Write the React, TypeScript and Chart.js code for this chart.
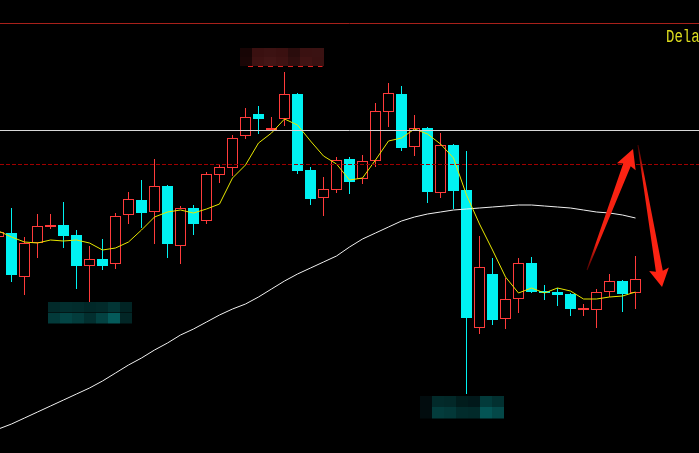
import React, { useEffect, useRef } from 'react';
import { Chart, registerables } from 'chart.js';

Chart.register(...registerables);

// ---- Data (price values) ----
const OPEN = [
  1.1016, 1.1020, 1.0976, 1.1010, 1.1026, 1.1028, 1.1018, 1.0987, 1.0994, 1.0989,
  1.1038, 1.1053, 1.1041, 1.1067, 1.1007, 1.1045, 1.1032, 1.1078, 1.1085, 1.1117,
  1.1139, 1.1123, 1.1134, 1.1159, 1.1083, 1.1055, 1.1063, 1.1094, 1.1074, 1.1092,
  1.1141, 1.1159, 1.1106, 1.1125, 1.1060, 1.1108, 1.1063, 1.0925, 1.0979, 1.0934,
  1.0954, 1.0990, 1.0962, 1.0961, 1.0959, 1.0943, 1.0943, 1.0961, 1.0972, 1.0960,
];
const HIGH = [
  1.1024, 1.1045, 1.1016, 1.1039, 1.1039, 1.1051, 1.1023, 1.1007, 1.1014, 1.1040,
  1.1061, 1.1073, 1.1094, 1.1068, 1.1047, 1.1048, 1.1081, 1.1089, 1.1118, 1.1145,
  1.1147, 1.1136, 1.1181, 1.1160, 1.1086, 1.1076, 1.1096, 1.1096, 1.1098, 1.1150,
  1.1170, 1.1167, 1.1138, 1.1126, 1.1120, 1.1109, 1.1102, 1.1017, 1.0995, 1.0975,
  1.0995, 1.0996, 1.0968, 1.0965, 1.0960, 1.0949, 1.0964, 1.0979, 1.0973, 1.0997,
];
const LOW = [
  1.1013, 1.0971, 1.0958, 1.0995, 1.1024, 1.1005, 1.0964, 1.0951, 1.0983, 1.0984,
  1.1029, 1.1025, 1.1009, 1.0995, 1.0989, 1.1018, 1.1029, 1.1070, 1.1077, 1.1114,
  1.1119, 1.1123, 1.1127, 1.1079, 1.1048, 1.1037, 1.1060, 1.1059, 1.1069, 1.1086,
  1.1126, 1.1102, 1.1097, 1.1050, 1.1055, 1.1044, 1.0859, 1.0919, 1.0928, 1.0924,
  1.0940, 1.0960, 1.0953, 1.0947, 1.0937, 1.0937, 1.0925, 1.0956, 1.0941, 1.0944,
];
const CLOSE = [
  1.1021, 1.0978, 1.1010, 1.1027, 1.1028, 1.1017, 1.0987, 1.0994, 1.0987, 1.1037,
  1.1054, 1.1040, 1.1067, 1.1009, 1.1045, 1.1029, 1.1079, 1.1086, 1.1115, 1.1136,
  1.1134, 1.1125, 1.1159, 1.1082, 1.1054, 1.1064, 1.1093, 1.1071, 1.1092, 1.1142,
  1.1160, 1.1105, 1.1125, 1.1061, 1.1108, 1.1062, 1.0935, 1.0986, 1.0933, 1.0954,
  1.0990, 1.0961, 1.0960, 1.0958, 1.0944, 1.0945, 1.0961, 1.0972, 1.0959, 1.0974,
];
const MA_FAST = [
  1.1022, 1.1016, 1.1011, 1.1010, 1.1013, 1.1012, 1.1013, 1.1010, 1.1003, 1.1005,
  1.1011, 1.1023, 1.1036, 1.1041, 1.1043, 1.1040, 1.1044, 1.1049, 1.1075, 1.1088,
  1.1110, 1.1120, 1.1134, 1.1128, 1.1112, 1.1097, 1.1089, 1.1073, 1.1075, 1.1093,
  1.1112, 1.1115, 1.1124, 1.1119, 1.1109, 1.1095, 1.1058, 1.1029, 1.1003, 1.0976,
  1.0960, 1.0965, 1.0960, 1.0965, 1.0962, 1.0954, 1.0954, 1.0956, 1.0957, 1.0961,
];
const MA_SLOW = [
  1.0824, 1.0829, 1.0835, 1.0841, 1.0847, 1.0853, 1.0859, 1.0865, 1.0872, 1.0880,
  1.0888, 1.0895, 1.0903, 1.0910, 1.0918, 1.0924, 1.0931, 1.0938, 1.0944, 1.0949,
  1.0956, 1.0964, 1.0972, 1.0979, 1.0985, 1.0991, 1.0997, 1.1006, 1.1014, 1.1020,
  1.1026, 1.1032, 1.1036, 1.1039, 1.1041, 1.1043, 1.1044, 1.1045, 1.1046, 1.1047,
  1.1048, 1.1048, 1.1047, 1.1046, 1.1045, 1.1043, 1.1041, 1.1040, 1.1038, 1.1035,
];
const LEVEL_WHITE = 1.1123;
const LEVEL_RED_DASH = 1.1089;
const LEVEL_TOP = 1.1230;
const CORNER_LABEL = 'Dela';

// arrows: [fromIndex, fromPrice, toIndex, toPrice]
const ARROW_UP = [45.27, 1.0983, 48.81, 1.1104];
const ARROW_DOWN = [49.19, 1.1108, 51.04, 1.0966];

// pixelated (blurred) price labels
const MOSAIC_HIGH = [
  ['#170505', '#3a1010', '#3c1212', '#3a1010', '#2a0c0c', '#3a1111', '#3a1212'],
  ['#1a0606', '#3e1212', '#421515', '#3e1212', '#300e0e', '#401313', '#3a1111'],
];
const MOSAIC_LOW_A = [
  ['#022a2a', '#022e2e', '#022c2c', '#012828', '#022a2a', '#023535', '#012424'],
  ['#033a3a', '#034444', '#033c3c', '#022f2f', '#034242', '#045a5a', '#022626'],
];
const MOSAIC_LOW_B = [
  ['#020c0e', '#022a2a', '#022828', '#011c1c', '#01181a', '#023a3a', '#023030'],
  ['#020c0e', '#033c3c', '#033838', '#022c2c', '#022a2a', '#045454', '#044848'],
];

const X_MIN = 1.5 / 13;
const X_MAX = X_MIN + 699 / 13;
const Y_MIN = 1.08;
const Y_MAX = 1.1253;

const RED = '#ff3b3b';
const CYAN = '#00f2f2';

function drawMosaic(ctx: CanvasRenderingContext2D, left: number, top: number, rows: string[][], cellW: number, rowH: number) {
  rows.forEach((row, r) => {
    row.forEach((c, k) => {
      ctx.fillStyle = c;
      ctx.fillRect(Math.round(left + k * cellW), Math.round(top + r * rowH), cellW, rowH);
    });
  });
}

function drawArrow(ctx: CanvasRenderingContext2D, x0: number, y0: number, x1: number, y1: number,
  tailW: number, neckW: number, headW: number, headL: number) {
  const dx = x1 - x0, dy = y1 - y0;
  const len = Math.hypot(dx, dy);
  const ux = dx / len, uy = dy / len;
  const nx = -uy, ny = ux;
  const bx = x1 - ux * headL, by = y1 - uy * headL;
  const g = ctx.createLinearGradient(x0, y0, x1, y1);
  g.addColorStop(0, '#4a0000');
  g.addColorStop(0.22, '#f02010');
  g.addColorStop(1, '#ff2414');
  ctx.fillStyle = g;
  ctx.beginPath();
  ctx.moveTo(x0 + nx * tailW / 2, y0 + ny * tailW / 2);
  ctx.lineTo(bx + nx * neckW / 2, by + ny * neckW / 2);
  ctx.lineTo(bx + nx * headW / 2 - ux * 2, by + ny * headW / 2 - uy * 2);
  ctx.lineTo(x1, y1);
  ctx.lineTo(bx - nx * headW / 2 - ux * 2, by - ny * headW / 2 - uy * 2);
  ctx.lineTo(bx - nx * neckW / 2, by - ny * neckW / 2);
  ctx.lineTo(x0 - nx * tailW / 2, y0 - ny * tailW / 2);
  ctx.closePath();
  ctx.fill();
}

const overlayPlugin = {
  id: 'overlay',
  beforeDraw(chart: any) {
    const ctx = chart.ctx;
    ctx.save();
    ctx.fillStyle = '#000';
    ctx.fillRect(0, 0, chart.width, chart.height);
    ctx.restore();
  },
  afterDatasetsDraw(chart: any) {
    const ctx: CanvasRenderingContext2D = chart.ctx;
    const xs = chart.scales.x;
    const ys = chart.scales.y;
    const W = chart.width;
    ctx.save();

    // horizontal levels
    const yTop = Math.round(ys.getPixelForValue(LEVEL_TOP)) + 0.5;
    ctx.strokeStyle = '#a8201a';
    ctx.lineWidth = 1;
    ctx.beginPath(); ctx.moveTo(0, yTop); ctx.lineTo(W, yTop); ctx.stroke();

    const yW = Math.round(ys.getPixelForValue(LEVEL_WHITE)) + 0.5;
    ctx.strokeStyle = '#d8d8d8';
    ctx.beginPath(); ctx.moveTo(0, yW); ctx.lineTo(W, yW); ctx.stroke();

    const yR = Math.round(ys.getPixelForValue(LEVEL_RED_DASH)) + 0.5;
    ctx.strokeStyle = '#a00000';
    ctx.setLineDash([4, 2]);
    ctx.beginPath(); ctx.moveTo(0, yR); ctx.lineTo(W, yR); ctx.stroke();
    ctx.setLineDash([]);

    // blurred high label above the highest candle
    let hi = 0, lo = 0;
    HIGH.forEach((v, i) => { if (v > HIGH[hi]) hi = i; });
    LOW.forEach((v, i) => { if (v < LOW[lo]) lo = i; });
    const hx = xs.getPixelForValue(hi), hy = ys.getPixelForValue(HIGH[hi]);
    drawMosaic(ctx, hx - 44.5, hy - 24, MOSAIC_HIGH, 12, 9);
    ctx.strokeStyle = '#e02020';
    ctx.setLineDash([5, 5]);
    ctx.beginPath();
    ctx.moveTo(hx - 36.5, Math.round(hy - 6) + 0.5);
    ctx.lineTo(hx + 38, Math.round(hy - 6) + 0.5);
    ctx.stroke();
    ctx.setLineDash([]);

    // blurred low label under the lowest candle
    const lx = xs.getPixelForValue(lo), ly = ys.getPixelForValue(LOW[lo]);
    drawMosaic(ctx, lx - 46.5, ly + 2, MOSAIC_LOW_B, 12, 11.5);

    // blurred label under the early swing low (index 7)
    const sx = xs.getPixelForValue(7), sy = ys.getPixelForValue(LOW[7]);
    drawMosaic(ctx, sx - 41.5, sy + 0, MOSAIC_LOW_A, 12, 10.5);

    // arrows
    drawArrow(ctx,
      xs.getPixelForValue(ARROW_UP[0]), ys.getPixelForValue(ARROW_UP[1]),
      xs.getPixelForValue(ARROW_UP[2]), ys.getPixelForValue(ARROW_UP[3]),
      1, 8, 20, 17);
    drawArrow(ctx,
      xs.getPixelForValue(ARROW_DOWN[0]), ys.getPixelForValue(ARROW_DOWN[1]),
      xs.getPixelForValue(ARROW_DOWN[2]), ys.getPixelForValue(ARROW_DOWN[3]),
      1, 7, 20, 16);

    // corner label
    ctx.fillStyle = '#dcdc1e';
    ctx.font = '14px "Liberation Mono", "DejaVu Sans Mono", monospace';
    ctx.textBaseline = 'alphabetic';
    ctx.save();
    ctx.translate(666, 42);
    ctx.scale(1, 1.25);
    ctx.fillText(CORNER_LABEL, 0, 0);
    ctx.restore();

    ctx.restore();
  },
};

export default function App() {
  const ref = useRef<HTMLCanvasElement | null>(null);

  useEffect(() => {
    const canvas = ref.current;
    if (!canvas) return;
    const up = OPEN.map((o, i) => CLOSE[i] >= o);
    const wicks = OPEN.map((_, i) => ({ x: i, y: [LOW[i], HIGH[i]] }));
    const bodies = OPEN.map((o, i) => ({ x: i, y: [o, CLOSE[i]] }));
    const chart = new Chart(canvas, {
      type: 'bar',
      data: {
        datasets: [
          {
            type: 'line',
            data: MA_FAST.map((v, i) => ({ x: i, y: v })),
            borderColor: '#e8e800',
            borderWidth: 1,
            pointRadius: 0,
            tension: 0,
            order: 0,
          } as any,
          {
            type: 'line',
            data: MA_SLOW.map((v, i) => ({ x: i, y: v })),
            borderColor: '#f0f0f0',
            borderWidth: 1,
            pointRadius: 0,
            tension: 0,
            order: 0,
          } as any,
          {
            type: 'bar',
            data: bodies,
            backgroundColor: up.map((u) => (u ? '#000000' : CYAN)),
            borderColor: up.map((u) => (u ? RED : CYAN)),
            borderWidth: 1,
            borderSkipped: false,
            inflateAmount: 0,
            barThickness: 11,
            grouped: false,
            order: 1,
          } as any,
          {
            type: 'bar',
            data: wicks,
            backgroundColor: up.map((u) => (u ? RED : CYAN)),
            borderWidth: 0,
            inflateAmount: 0,
            barThickness: 1,
            grouped: false,
            order: 2,
          } as any,
        ],
      },
      options: {
        animation: false,
        responsive: false,
        devicePixelRatio: 1,
        events: [],
        layout: { padding: 0 },
        plugins: { legend: { display: false }, tooltip: { enabled: false } },
        scales: {
          x: { type: 'linear', min: X_MIN, max: X_MAX, display: false, offset: false, bounds: 'data' },
          y: { type: 'linear', min: Y_MIN, max: Y_MAX, display: false, bounds: 'data', beginAtZero: false },
        },
      } as any,
      plugins: [overlayPlugin],
    });
    return () => chart.destroy();
  }, []);

  return (
    <div style={{ position: 'fixed', left: 0, top: 0, width: 699, height: 453, background: '#000', overflow: 'hidden' }}>
      <canvas ref={ref} width={699} height={453} style={{ display: 'block', width: 699, height: 453 }} />
    </div>
  );
}
